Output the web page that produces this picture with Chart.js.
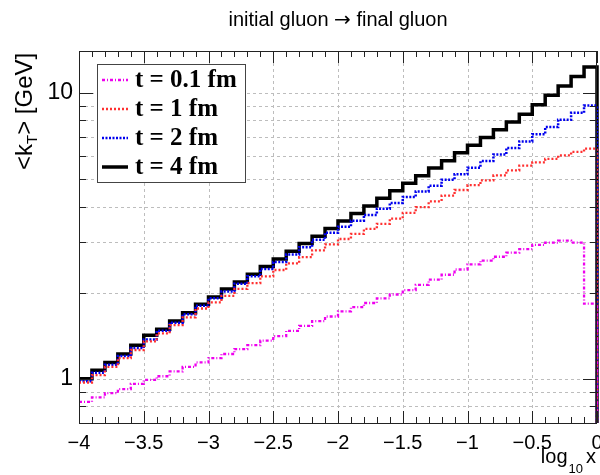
<!DOCTYPE html>
<html><head><meta charset="utf-8">
<script src="https://cdn.jsdelivr.net/npm/chart.js@4.4.0/dist/chart.umd.min.js"></script>
<style>html,body{margin:0;padding:0;background:#fff;}#wrap{width:600px;height:475px;}</style>
</head><body><div id="wrap"><canvas id="c" width="600" height="475"></canvas></div>
<script>
// ---- data ----
const binWidth = 0.1;
const binLowEdges = Array.from({length: 40}, (_, i) => -4 + i * binWidth);
const seriesNames = ['t = 0.1 fm', 't = 1 fm', 't = 2 fm', 't = 4 fm'];
const kT_t01 = [0.83,0.86,0.89,0.92,0.96,0.99,1.02,1.06,1.10,1.14,1.18,1.22,1.27,1.31,1.36,1.41,1.47,1.53,1.59,1.65,1.72,1.78,1.84,1.91,1.97,2.04,2.13,2.22,2.31,2.41,2.51,2.59,2.67,2.76,2.84,2.94,2.99,3.04,2.99,1.83];
const kT_t1  = [0.97,1.03,1.10,1.18,1.26,1.35,1.44,1.54,1.64,1.76,1.85,1.95,2.06,2.16,2.28,2.40,2.53,2.66,2.81,2.95,3.08,3.21,3.34,3.48,3.63,3.80,3.98,4.17,4.37,4.57,4.75,4.94,5.14,5.35,5.56,5.71,5.87,6.04,6.21,6.38];
const kT_t2  = [0.98,1.05,1.12,1.20,1.28,1.37,1.47,1.57,1.68,1.80,1.91,2.02,2.15,2.28,2.42,2.56,2.72,2.88,3.06,3.24,3.40,3.57,3.74,3.93,4.12,4.32,4.52,4.73,4.96,5.19,5.47,5.77,6.08,6.41,6.76,7.16,7.59,8.04,8.51,9.02];
const kT_t4  = [1.00,1.07,1.14,1.22,1.31,1.42,1.49,1.59,1.70,1.82,1.93,2.06,2.18,2.32,2.47,2.62,2.79,2.97,3.15,3.35,3.56,3.78,4.02,4.28,4.54,4.83,5.13,5.46,5.79,6.17,6.56,6.98,7.43,7.91,8.41,9.08,9.80,10.57,11.40,12.30];
const histFloor = 0.5; // histogram outline drops to the axis
const xTickValues = [-4,-3.5,-3,-2.5,-2,-1.5,-1,-0.5,0];
const xTickLabels = ['\u22124','\u22123.5','\u22123','\u22122.5','\u22122','\u22121.5','\u22121','\u22120.5','0'];
const yTickValues = [1,10];
const yTickLabels = ['1','10'];
const yMinorValues = [0.8,0.9,2,3,4,5,6,7,8,9];
const yGridValues = [0.8,0.9,1,2,3,4,5,6,7,8,9,10];
const xGridValues = [-3.5,-3,-2.5,-2,-1.5,-1,-0.5];

const styles = [
  {color:'#ee00ee', dash:[3,2,1,2], width:2.3, order:0},
  {color:'#ff3030', dash:[2,2], width:2.3, order:1},
  {color:'#0000ee', dash:[2,1.5], width:2.5, order:2},
  {color:'#000000', dash:[], width:3.5, order:3}
];
const allSeries = [kT_t01, kT_t1, kT_t2, kT_t4];

function histPoints(vals){
  const pts = [];
  vals.forEach((v,i)=>{ pts.push({x: binLowEdges[i], y: v}); pts.push({x: binLowEdges[i] + binWidth, y: v}); });
  pts.push({x: binLowEdges[vals.length-1] + binWidth, y: histFloor});
  return pts;
}

const datasets = allSeries.map((vals, i) => ({
  label: seriesNames[i],
  data: histPoints(vals),
  borderColor: styles[i].color,
  borderWidth: styles[i].width,
  borderDash: styles[i].dash,
  pointRadius: 0,
  tension: 0,
  fill: false,
  order: styles[i].order,
  clip: {left: 0, top: 0, right: 3, bottom: 0}
}));

const FONT_SANS = '"Liberation Sans", Arial, Helvetica, sans-serif';
const FONT_SERIF = '"Liberation Serif", "Times New Roman", serif';

const rootStyle = {
  id: 'rootStyle',
  beforeDatasetsDraw(chart){
    const {ctx, chartArea:a, scales:{x, y}} = chart;
    ctx.save();
    ctx.strokeStyle = '#bdbdbd'; ctx.lineWidth = 1; ctx.setLineDash([3,3]);
    ctx.beginPath();
    xGridValues.forEach(v => { const p = Math.round(x.getPixelForValue(v)) + 0.5; ctx.moveTo(p, a.top); ctx.lineTo(p, a.bottom); });
    yGridValues.forEach(v => { const p = Math.round(y.getPixelForValue(v)) + 0.5; ctx.moveTo(a.left, p); ctx.lineTo(a.right, p); });
    ctx.stroke();
    ctx.restore();
  },
  afterDatasetsDraw(chart){
    const {ctx, chartArea:a, scales:{x, y}} = chart;
    ctx.save();
    ctx.setLineDash([]);
    ctx.strokeStyle = '#222'; ctx.lineWidth = 1;
    ctx.strokeRect(Math.round(a.left)+0.5, Math.round(a.top)+0.5, Math.round(a.right-a.left)-1, Math.round(a.bottom-a.top));
    ctx.beginPath();
    for (let k = 0; k <= 40; k++) {
      const v = -4 + k * 0.1;
      const major = (k % 5 === 0);
      const len = major ? 12 : 6;
      const p = Math.round(x.getPixelForValue(v)) + 0.5;
      ctx.moveTo(p, a.bottom); ctx.lineTo(p, a.bottom - len);
      ctx.moveTo(p, a.top); ctx.lineTo(p, a.top + len);
    }
    yTickValues.concat(yMinorValues).forEach(v => {
      const major = yTickValues.includes(v);
      const len = major ? 14 : 7;
      const p = Math.round(y.getPixelForValue(v)) + 0.5;
      ctx.moveTo(a.left, p); ctx.lineTo(a.left + len, p);
      ctx.moveTo(a.right, p); ctx.lineTo(a.right - len, p);
    });
    ctx.stroke();
    ctx.restore();
  },
  afterDraw(chart){
    const {ctx, chartArea:a} = chart;
    ctx.save();
    // legend
    const lx = 97.5, ly = 64.5, lw = 148, lh = 118;
    ctx.fillStyle = '#fff'; ctx.fillRect(lx, ly, lw, lh);
    ctx.strokeStyle = '#444'; ctx.lineWidth = 1; ctx.setLineDash([]);
    ctx.strokeRect(lx, ly, lw, lh);
    ctx.font = 'bold 25px ' + FONT_SERIF;
    ctx.textBaseline = 'alphabetic'; ctx.textAlign = 'left'; ctx.fillStyle = '#000';
    seriesNames.forEach((name, i) => {
      const cy = 80 + 29 * i;
      ctx.beginPath();
      ctx.strokeStyle = styles[i].color; ctx.lineWidth = styles[i].width;
      ctx.setLineDash(styles[i].dash);
      ctx.moveTo(102, cy); ctx.lineTo(128, cy); ctx.stroke();
      ctx.setLineDash([]);
      ctx.fillText(name, 135, cy + 7);
    });
    // title with a full-size arrow
    const tf = '20px ' + FONT_SANS, af = '20px "DejaVu Sans", sans-serif';
    const p1 = 'initial gluon ', p2 = '\u2192', p3 = ' final gluon';
    ctx.font = tf; const w1 = ctx.measureText(p1).width, w3 = ctx.measureText(p3).width;
    ctx.font = af; const w2 = ctx.measureText(p2).width;
    let tx = (a.left + a.right) / 2 - (w1 + w2 + w3) / 2;
    ctx.font = tf; ctx.fillText(p1, tx, 26); tx += w1;
    ctx.font = af; ctx.fillText(p2, tx, 26); tx += w2;
    ctx.font = tf; ctx.fillText(p3, tx, 26);
    // x axis title: log_10 x
    const big = '20px ' + FONT_SANS, small = '13px ' + FONT_SANS;
    ctx.font = big; const wLog = ctx.measureText('log').width; const wX = ctx.measureText('x').width;
    ctx.font = small; const wSub = ctx.measureText('10').width;
    let xs = 596 - wX - 3 - wSub - 1 - wLog;
    ctx.font = big; ctx.fillText('log', xs, 463); xs += wLog + 1;
    ctx.font = small; ctx.fillText('10', xs, 473); xs += wSub + 3;
    ctx.font = big; ctx.fillText('x', xs, 463);
    // y axis title: <k_T> [GeV]
    ctx.translate(32, 170); ctx.rotate(-Math.PI / 2);
    let t = 0;
    const yb = '24px ' + FONT_SANS, ys = '15px ' + FONT_SANS;
    ctx.font = yb; ctx.fillText('<k', t, 0); t += ctx.measureText('<k').width;
    ctx.font = ys; ctx.fillText('T', t, 5); t += ctx.measureText('T').width;
    ctx.font = yb; ctx.fillText('> [GeV]', t, 0);
    ctx.restore();
  }
};

new Chart(document.getElementById('c'), {
  type: 'line',
  data: { datasets },
  options: {
    responsive: false, animation: false,
    layout: { padding: { top: 51, right: 3, left: 0, bottom: 0 } },
    plugins: { legend: { display: false }, tooltip: { enabled: false }, title: { display: false } },
    scales: {
      x: {
        type: 'linear', min: -4, max: 0,
        afterBuildTicks: s => { s.ticks = xTickValues.map(v => ({value: v})); },
        ticks: { callback: (v, i) => xTickLabels[i], font: { family: FONT_SANS, size: 20 }, color: '#000', padding: 8, maxRotation: 0, autoSkip: false },
        grid: { display: false, drawTicks: false }, border: { display: false },
        afterFit: s => { s.height = 52; s.paddingLeft = 0; s.paddingRight = 0; }
      },
      y: {
        type: 'logarithmic', min: 0.73, max: 14,
        afterBuildTicks: s => { s.ticks = yTickValues.map(v => ({value: v})); },
        ticks: { callback: (v, i) => yTickLabels[i], font: { family: FONT_SANS, size: 23 }, color: '#000', padding: 6, autoSkip: false },
        grid: { display: false, drawTicks: false }, border: { display: false },
        afterFit: s => { s.width = 79; s.paddingTop = 0; s.paddingBottom = 0; }
      }
    }
  },
  plugins: [rootStyle]
});
</script></body></html>
